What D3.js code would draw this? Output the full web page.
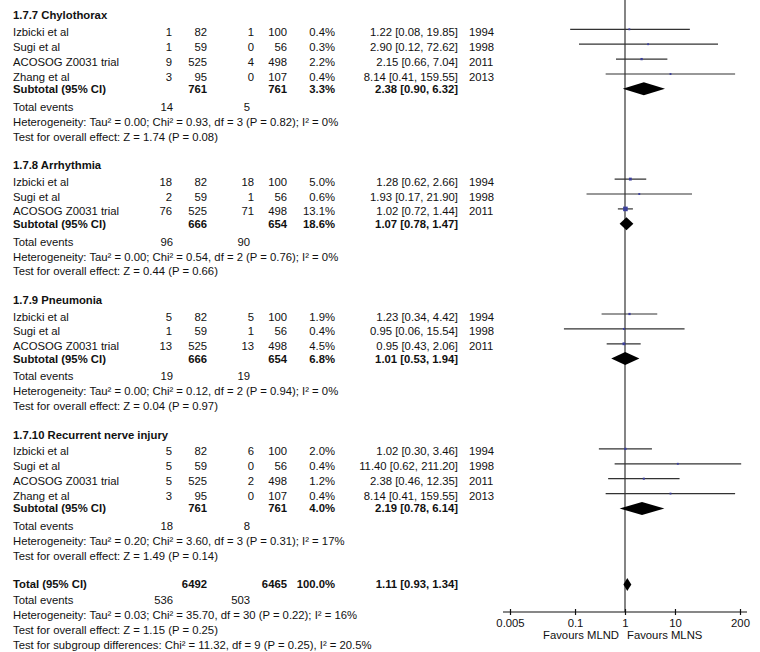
<!DOCTYPE html>
<html>
<head>
<meta charset="utf-8">
<script src="https://cdn.jsdelivr.net/npm/d3@7"></script>
<style>
  body { margin: 0; background: #fff; }
  text { font-family: Arial, "Liberation Sans", sans-serif; font-size: 11.3px; fill: #111; }
  .b { font-weight: bold; }
</style>
</head>
<body>
<script>
var width = 760,
    height = 652;

// subgroups
var groups = ["1.7.7 Chylothorax", "1.7.8 Arrhythmia", "1.7.9 Pneumonia", "1.7.10 Recurrent nerve injury"];

// studies
var studyGroup = [0, 0, 0, 0, 1, 1, 1, 2, 2, 2, 3, 3, 3, 3];
var studyName = ["Izbicki et al", "Sugi et al", "ACOSOG Z0031 trial", "Zhang et al",
                 "Izbicki et al", "Sugi et al", "ACOSOG Z0031 trial",
                 "Izbicki et al", "Sugi et al", "ACOSOG Z0031 trial",
                 "Izbicki et al", "Sugi et al", "ACOSOG Z0031 trial", "Zhang et al"];
var evMLND  = [1, 1, 9, 3, 18, 2, 76, 5, 1, 13, 5, 5, 5, 3];
var totMLND = [82, 59, 525, 95, 82, 59, 525, 82, 59, 525, 82, 59, 525, 95];
var evMLNS  = [1, 0, 4, 0, 18, 1, 71, 5, 1, 13, 6, 0, 2, 0];
var totMLNS = [100, 56, 498, 107, 100, 56, 498, 100, 56, 498, 100, 56, 498, 107];
var weight  = [0.4, 0.3, 2.2, 0.4, 5.0, 0.6, 13.1, 1.9, 0.4, 4.5, 2.0, 0.4, 1.2, 0.4];
var rr      = [1.22, 2.90, 2.15, 8.14, 1.28, 1.93, 1.02, 1.23, 0.95, 0.95, 1.02, 11.40, 2.38, 8.14];
var lo      = [0.08, 0.12, 0.66, 0.41, 0.62, 0.17, 0.72, 0.34, 0.06, 0.43, 0.30, 0.62, 0.46, 0.41];
var hi      = [19.85, 72.62, 7.04, 159.55, 2.66, 21.90, 1.44, 4.42, 15.54, 2.06, 3.46, 211.20, 12.35, 159.55];
var year    = [1994, 1998, 2011, 2013, 1994, 1998, 2011, 1994, 1998, 2011, 1994, 1998, 2011, 2013];

// subtotals
var subTotMLND = [761, 666, 666, 761];
var subTotMLNS = [761, 654, 654, 761];
var subWeight  = [3.3, 18.6, 6.8, 4.0];
var subRR = [2.38, 1.07, 1.01, 2.19];
var subLo = [0.90, 0.78, 0.53, 0.78];
var subHi = [6.32, 1.47, 1.94, 6.14];
var subEvMLND = [14, 96, 19, 18];
var subEvMLNS = [5, 90, 19, 8];
var subHet = [
  "Heterogeneity: Tau² = 0.00; Chi² = 0.93, df = 3 (P = 0.82); I² = 0%",
  "Heterogeneity: Tau² = 0.00; Chi² = 0.54, df = 2 (P = 0.76); I² = 0%",
  "Heterogeneity: Tau² = 0.00; Chi² = 0.12, df = 2 (P = 0.94); I² = 0%",
  "Heterogeneity: Tau² = 0.20; Chi² = 3.60, df = 3 (P = 0.31); I² = 17%"];
var subTest = [
  "Test for overall effect: Z = 1.74 (P = 0.08)",
  "Test for overall effect: Z = 0.44 (P = 0.66)",
  "Test for overall effect: Z = 0.04 (P = 0.97)",
  "Test for overall effect: Z = 1.49 (P = 0.14)"];

// overall
var totalN = [6492, 6465];
var totalEv = [536, 503];
var totalRR = [1.11, 0.93, 1.34];
var totalLines = [
  "Heterogeneity: Tau² = 0.03; Chi² = 35.70, df = 30 (P = 0.22); I² = 16%",
  "Test for overall effect: Z = 1.15 (P = 0.25)",
  "Test for subgroup differences: Chi² = 11.32, df = 9 (P = 0.25), I² = 20.5%"];

var axisTicks = [0.005, 0.1, 1, 10, 200];

var f2 = d3.format(".2f");
function ciText(a, l, h) { return f2(a) + " [" + f2(l) + ", " + f2(h) + "]"; }

var svg = d3.select('body')
    .append('svg')
    .attr('width', width)
    .attr('height', height);

var x = d3.scaleLog()
    .domain([0.005, 200])
    .range([510, 740]);

var size = d3.scaleLinear().domain([0, 13.1]).range([1.8, 4.6]);

// column positions
var col = { name: 13, evA: 172, totA: 207, evB: 254, totB: 287, w: 335, ci: 458, yr: 469, teA: 173, teB: 250 };

function txt(xp, yp, s, anchor, bold) {
  return svg.append('text')
    .attr('x', xp).attr('y', yp).attr('dy', '0.36em')
    .attr('text-anchor', anchor || 'start')
    .attr('class', bold ? 'b' : null)
    .text(s);
}

var g = svg.append('g');
var yAxis = 612;

// vertical line of no effect
g.append('line')
  .attr('x1', x(1)).attr('x2', x(1))
  .attr('y1', 0).attr('y2', yAxis)
  .attr('stroke', '#333').attr('stroke-width', 1.2);

var y = 15;
groups.forEach(function(name, gi) {
  txt(col.name, y, name, 'start', true);
  y += 16.8;
  var idx = d3.range(studyName.length).filter(function(i) { return studyGroup[i] === gi; });
  idx.forEach(function(i, k) {
    if (k > 0) y += 14.9;
    txt(col.name, y, studyName[i]);
    txt(col.evA, y, evMLND[i], 'end');
    txt(col.totA, y, totMLND[i], 'end');
    txt(col.evB, y, evMLNS[i], 'end');
    txt(col.totB, y, totMLNS[i], 'end');
    txt(col.w, y, d3.format(".1f")(weight[i]) + "%", 'end');
    txt(col.ci, y, ciText(rr[i], lo[i], hi[i]), 'end');
    txt(col.yr, y, year[i]);
    var yl = y - 2.5;
    g.append('line')
      .attr('x1', x(lo[i])).attr('x2', x(hi[i]))
      .attr('y1', yl).attr('y2', yl)
      .attr('stroke', '#333').attr('stroke-width', 1.2);
    var s = size(weight[i]);
    g.append('rect')
      .attr('x', x(rr[i]) - s / 2).attr('y', yl - s / 2)
      .attr('width', s).attr('height', s)
      .attr('fill', '#3b3f9a');
  });
  y += 12.3;
  txt(col.name, y, "Subtotal (95% CI)", 'start', true);
  txt(col.totA, y, subTotMLND[gi], 'end', true);
  txt(col.totB, y, subTotMLNS[gi], 'end', true);
  txt(col.w, y, d3.format(".1f")(subWeight[gi]) + "%", 'end', true);
  txt(col.ci, y, ciText(subRR[gi], subLo[gi], subHi[gi]), 'end', true);
  g.append('path')
    .attr('d', 'M' + x(subLo[gi]) + ',' + y + 'L' + x(subRR[gi]) + ',' + (y - 6.5) +
               'L' + x(subHi[gi]) + ',' + y + 'L' + x(subRR[gi]) + ',' + (y + 6.5) + 'Z')
    .attr('fill', '#000');
  y += 17.8;
  txt(col.name, y, "Total events");
  txt(col.teA, y, subEvMLND[gi], 'end');
  txt(col.teB, y, subEvMLNS[gi], 'end');
  y += 15;
  txt(col.name, y, subHet[gi]);
  y += 14.9;
  txt(col.name, y, subTest[gi]);
  y += 28.3;
});

// overall total
txt(col.name, y, "Total (95% CI)", 'start', true);
txt(col.totA, y, totalN[0], 'end', true);
txt(col.totB, y, totalN[1], 'end', true);
txt(col.w, y, "100.0%", 'end', true);
txt(col.ci, y, ciText(totalRR[0], totalRR[1], totalRR[2]), 'end', true);
g.append('path')
  .attr('d', 'M' + x(totalRR[1]) + ',' + y + 'L' + x(totalRR[0]) + ',' + (y - 6.5) +
             'L' + x(totalRR[2]) + ',' + y + 'L' + x(totalRR[0]) + ',' + (y + 6.5) + 'Z')
  .attr('fill', '#000');
y += 16;
txt(col.name, y, "Total events");
txt(col.teA, y, totalEv[0], 'end');
txt(col.teB, y, totalEv[1], 'end');
totalLines.forEach(function(s) {
  y += 14.9;
  txt(col.name, y, s);
});

// axis
var axis = d3.axisBottom(x)
    .tickValues(axisTicks)
    .tickFormat(function(d) { return String(d); })
    .tickSize(3)
    .tickSizeOuter(0)
    .tickPadding(4);

var ax = svg.append('g')
    .attr('transform', 'translate(0,' + yAxis + ')')
    .call(axis);
ax.select('.domain').remove();
ax.selectAll('.tick line').attr('y1', -3).attr('y2', 3).attr('stroke', '#111').attr('stroke-width', 1.2);
ax.selectAll('.tick text').style('font-size', '11.3px').style('font-family', 'Arial, "Liberation Sans", sans-serif').attr('fill', '#111');
ax.append('line')
  .attr('x1', x(0.005) - 7).attr('x2', x(200) + 7)
  .attr('stroke', '#111').attr('stroke-width', 1.2);

txt(x(1) - 6, 635, "Favours MLND", 'end');
txt(x(1) + 2, 635, "Favours MLNS", 'start');
</script>
</body>
</html>
